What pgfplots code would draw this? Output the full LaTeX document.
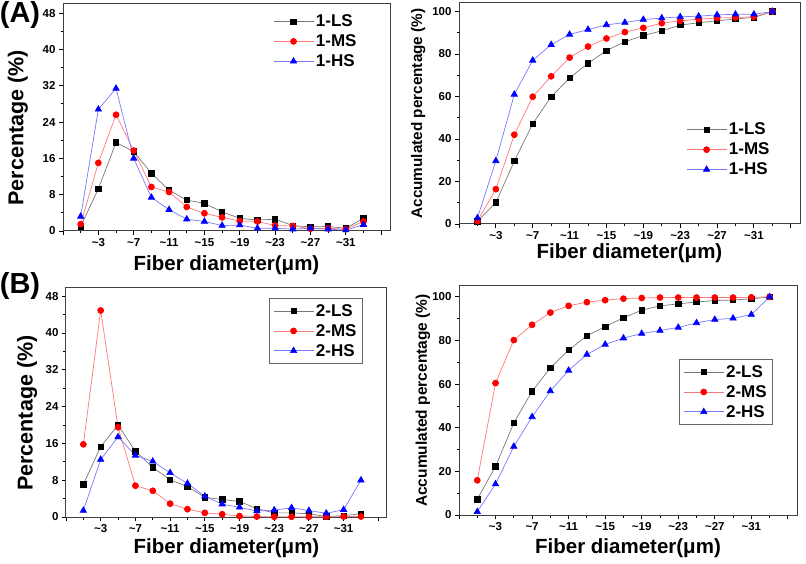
\documentclass[border=0pt]{standalone}
\usepackage{pgfplots}
\pgfplotsset{compat=1.18}
\usepackage{pgfplotstable}
\usepackage{fontspec}
\setmainfont{Liberation Sans}

\pgfplotstableread{
x LS MS HS
1 1.0 1.5 3.2
3 9.3 15.0 26.8
5 19.5 25.6 31.4
7 17.5 17.7 16.0
9 12.7 9.7 7.4
11 9.0 8.6 4.7
13 6.8 5.3 2.6
15 6.1 3.9 2.1
17 4.2 3.0 1.2
19 2.8 2.2 1.3
21 2.4 2.1 0.6
23 2.6 1.2 0.6
25 1.2 1.1 0.4
27 0.9 0.5 0.6
29 1.0 0.6 0.4
31 0.6 0.4 0.2
33 2.8 2.1 1.4
}\dataAL

\pgfplotstableread{
x LS MS HS
1 1.3 1.4 2.8
3 10.1 16.4 29.7
5 29.6 42.0 61.0
7 47.2 59.9 77.0
9 59.9 69.5 84.4
11 68.7 78.3 89.2
13 75.6 83.5 91.5
15 81.6 87.3 93.7
17 85.8 90.3 94.8
19 88.7 92.3 96.2
21 90.9 94.5 96.9
23 93.6 95.6 97.5
25 94.7 96.4 97.8
27 95.6 96.9 98.4
29 96.5 97.2 98.7
31 97.2 97.5 98.7
33 100 100 100
}\dataAR

\pgfplotstableread{
x LS MS HS
1 7.1 15.8 1.4
3 15.3 44.9 12.5
5 20.0 19.5 17.4
7 14.3 6.8 13.4
9 10.8 5.7 12.1
11 8.1 2.9 9.6
13 6.6 1.7 7.3
15 4.3 0.9 4.5
17 3.8 0.6 2.8
19 3.4 0.2 2.1
21 1.8 0.1 1.3
23 0.9 0.05 1.5
25 0.9 0.05 2.0
27 0.7 0.05 1.4
29 0.1 0.05 0.8
31 0.3 0.1 1.6
33 0.7 0.1 8.0
}\dataBL

\pgfplotstableread{
x LS MS HS
1 7.2 15.9 1.5
3 22.3 60.5 14.2
5 42.2 80.2 31.4
7 56.7 87.2 45.0
9 67.5 92.8 56.9
11 75.6 95.9 66.3
13 82.2 97.6 73.6
15 86.4 98.5 78.2
17 90.4 99.2 81.1
19 93.9 99.5 83.2
21 95.9 99.7 84.6
23 96.8 99.7 86.0
25 97.7 99.7 88.1
27 98.3 99.7 89.6
29 98.6 99.7 90.2
31 99.1 99.8 91.9
33 100 100 100
}\dataBR

\definecolor{lsline}{RGB}{120,120,120}
\definecolor{msline}{RGB}{255,120,120}
\definecolor{hsline}{RGB}{120,120,255}

\pgfplotsset{
  panel/.style={
    scale only axis,
    anchor=south west,
    xmin=-1, xmax=36,
    xtick={-1,3,7,...,35},
    xticklabels={{},{\textasciitilde3},{\textasciitilde7},{\textasciitilde11},{\textasciitilde15},{\textasciitilde19},{\textasciitilde23},{\textasciitilde27},{\textasciitilde31},{}},
    minor xtick={1,5,...,33},
    xtick pos=bottom, ytick pos=left,
    tick align=outside,
    major tick length=4pt, minor tick length=2.5pt,
    tick style={black, line width=0.9pt},
    axis line style={black!75, line width=1pt},
    /pgf/number format/assume math mode=true,
    ticklabel style={font=\fontsize{11.5}{13}\selectfont\bfseries},
    label style={font=\fontsize{20.5}{24}\selectfont\bfseries},
    xlabel={Fiber diameter(μm)},
    legend cell align=left,
    legend style={draw=none, fill=none, font=\fontsize{17}{20}\selectfont\bfseries, row sep=2.5pt, inner sep=3pt},
    legend image code/.code={\draw[mark repeat=2,mark phase=2,##1] plot coordinates {(0pt,0pt) (20pt,0pt) (40pt,0pt)};},
    ymin=0,
  },
  LS/.style={color=lsline, line width=0.7pt, mark=square*, mark size=2.7pt, mark options={draw=black, fill=black}},
  MS/.style={color=msline, line width=0.7pt, mark=*, mark size=3pt, mark options={draw=red, fill=red}},
  HS/.style={color=hsline, line width=0.7pt, mark=triangle*, mark size=3.6pt, mark options={draw=blue, fill=blue}},
}

\begin{document}
\begin{tikzpicture}
\path[use as bounding box] (0pt,0pt) rectangle (806pt,563pt);

% (A) left
\begin{axis}[panel, at={(63pt,332pt)}, width=327pt, height=227pt,
  ymax=50, ytick={0,8,...,48}, minor ytick={4,12,...,44},
  ylabel={Percentage (\%)},
  xlabel style={at={(axis description cs:0.5,-0.150)}, anchor=center},
  ylabel style={font=\fontsize{21.5}{24}\selectfont\bfseries, at={(axis description cs:-0.138,0.455)}, anchor=center},
  legend style={at={(0.633,0.975)}, anchor=north west}]
\addplot[LS] table[x=x,y=LS] {\dataAL}; \addlegendentry{1-LS}
\addplot[MS] table[x=x,y=MS] {\dataAL}; \addlegendentry{1-MS}
\addplot[HS] table[x=x,y=HS] {\dataAL}; \addlegendentry{1-HS}
\end{axis}

% (A) right
\begin{axis}[panel, at={(459pt,339pt)}, width=341pt, height=221pt,
  ymax=104, ytick={0,20,...,100}, minor ytick={10,30,...,90},
  ylabel={Accumulated percentage (\%)},
  ylabel style={font=\fontsize{15.3}{18}\selectfont\bfseries, at={(axis description cs:-0.120,0.5)}, anchor=center},
  xlabel style={at={(axis description cs:0.5,-0.134)}, anchor=center},
  legend style={at={(0.657,0.48)}, anchor=north west}]
\addplot[LS] table[x=x,y=LS] {\dataAR}; \addlegendentry{1-LS}
\addplot[MS] table[x=x,y=MS] {\dataAR}; \addlegendentry{1-MS}
\addplot[HS] table[x=x,y=HS] {\dataAR}; \addlegendentry{1-HS}
\end{axis}

% (B) left
\begin{axis}[panel, at={(66pt,46pt)}, width=321pt, height=230pt,
  ymax=50, ytick={0,8,...,48}, minor ytick={4,12,...,44},
  ylabel={Percentage (\%)},
  xlabel style={at={(axis description cs:0.5,-0.135)}, anchor=center},
  ylabel style={font=\fontsize{21.5}{24}\selectfont\bfseries, at={(axis description cs:-0.121,0.452)}, anchor=center},
  legend style={at={(0.632,0.952)}, anchor=north west, draw=black!60, line width=0.7pt, inner sep=4pt}]
\addplot[LS] table[x=x,y=LS] {\dataBL}; \addlegendentry{2-LS}
\addplot[MS] table[x=x,y=MS] {\dataBL}; \addlegendentry{2-MS}
\addplot[HS] table[x=x,y=HS] {\dataBL}; \addlegendentry{2-HS}
\end{axis}

% (B) right
\begin{axis}[panel, at={(459pt,48pt)}, width=338pt, height=229pt,
  ymax=105, ytick={0,20,...,100}, minor ytick={10,30,...,90},
  ylabel={Accumulated percentage (\%)},
  ylabel style={font=\fontsize{15.5}{18}\selectfont\bfseries, at={(axis description cs:-0.107,0.5)}, anchor=center},
  xlabel style={at={(axis description cs:0.5,-0.143)}, anchor=center},
  legend style={at={(0.651,0.681)}, anchor=north west, draw=black!60, line width=0.7pt, inner sep=4pt}]
\addplot[LS] table[x=x,y=LS] {\dataBR}; \addlegendentry{2-LS}
\addplot[MS] table[x=x,y=MS] {\dataBR}; \addlegendentry{2-MS}
\addplot[HS] table[x=x,y=HS] {\dataBR}; \addlegendentry{2-HS}
\end{axis}

\node[font=\fontsize{29}{32}\selectfont\bfseries] at (20pt,548pt) {(A)};
\node[font=\fontsize{29}{32}\selectfont\bfseries] at (20pt,277pt) {(B)};
\end{tikzpicture}
\end{document}
